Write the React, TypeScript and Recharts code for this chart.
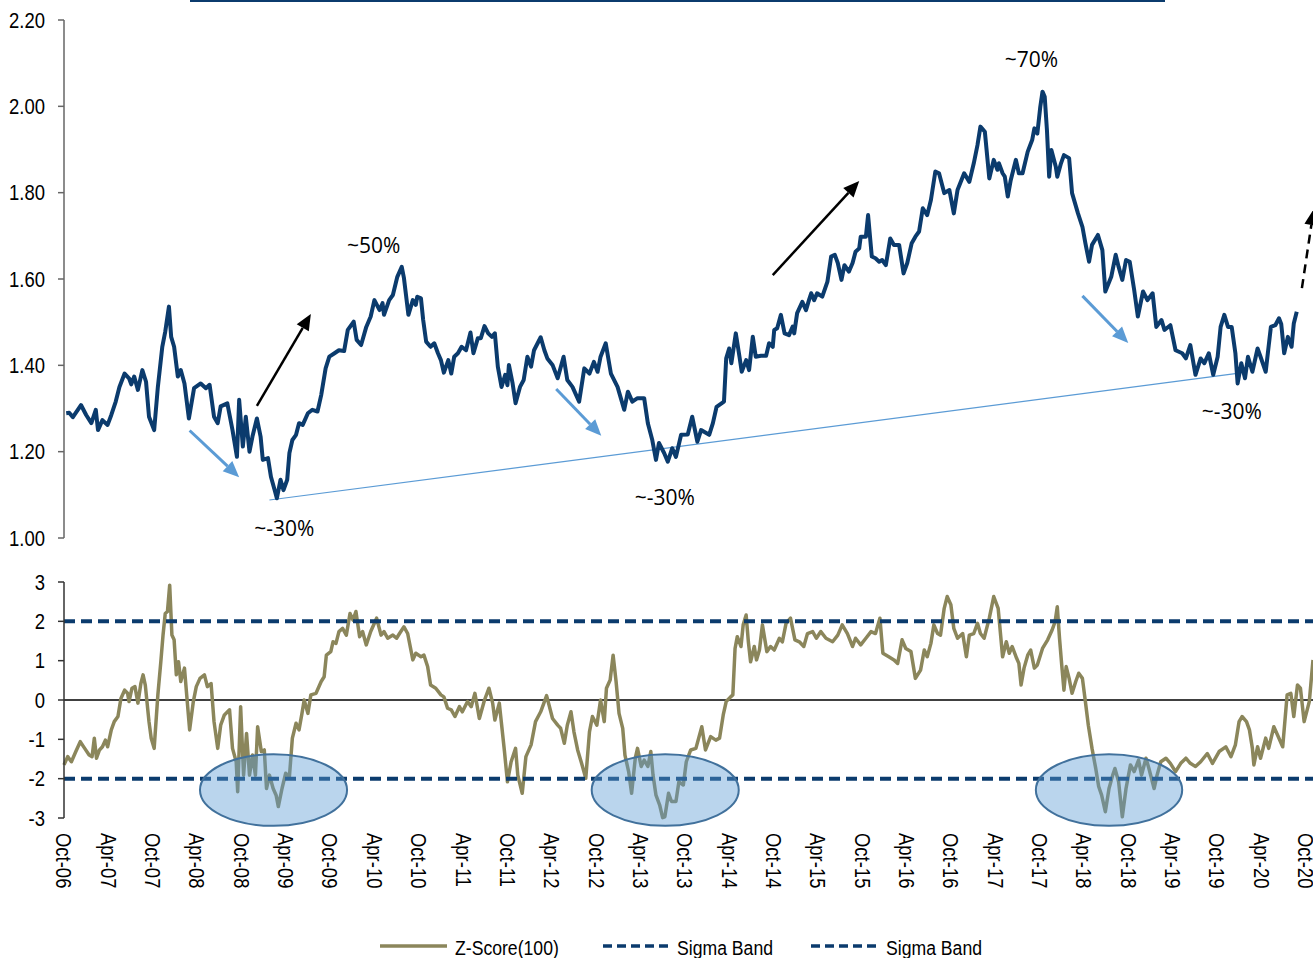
import React from "react";
import {
  LineChart,
  Line,
  XAxis,
  YAxis,
  ReferenceLine,
  ReferenceArea,
  ReferenceDot,
} from "recharts";

// months since Oct-06
const ratioMonths = [
  0.3, 0.7, 1.2, 2.3, 3.0, 3.7, 4.3, 4.6, 5.2, 5.9, 6.4, 7.0, 7.5, 8.2, 8.8, 9.1, 9.5, 10.0, 10.6, 11.1,
  11.5, 12.2, 12.7, 13.3, 13.7, 14.2, 14.5, 14.9, 15.4, 15.8, 16.3, 16.9, 17.6, 18.5, 19.2, 19.7, 20.3, 20.8,
  21.2, 22.1, 22.8, 23.4, 23.7, 24.2, 24.6, 25.1, 25.5, 26.1, 26.6, 26.9, 27.6, 28.0, 28.5, 28.8, 29.3, 29.7,
  30.2, 30.5, 30.9, 31.4, 31.8, 32.3, 33.0, 33.6, 34.3, 34.8, 35.4, 35.9, 36.6, 37.2, 37.9, 38.4, 39.2, 39.6,
  40.2, 40.9, 41.5, 42.0, 42.7, 43.1, 43.3, 44.0, 44.5, 45.1, 45.7, 46.0, 46.6, 47.2, 47.6, 47.8, 48.3, 48.6,
  49.0, 49.6, 50.1, 50.6, 51.0, 51.4, 52.0, 52.4, 52.8, 53.3, 53.8, 54.4, 55.0, 55.4, 56.0, 56.4, 56.9, 57.4,
  57.9, 58.3, 58.7, 59.2, 59.7, 60.0, 60.2, 60.7, 61.1, 61.7, 62.2, 62.7, 63.2, 63.6, 64.5, 65.0, 65.4, 66.1,
  66.8, 67.6, 68.1, 68.8, 69.7, 70.4, 71.1, 71.7, 72.2, 72.6, 73.3, 74.0, 74.9, 75.8, 76.3, 76.9, 77.6, 78.5,
  79.0, 79.6, 80.1, 80.5, 81.2, 81.7, 82.3, 82.8, 83.5, 84.4, 85.0, 85.7, 86.2, 87.3, 87.8, 88.3, 89.3, 89.6,
  90.0, 90.3, 90.9, 91.4, 91.7, 92.3, 92.7, 93.2, 93.6, 94.3, 95.0, 95.4, 95.9, 96.1, 96.5, 97.0, 97.5, 98.1,
  98.6, 98.8, 99.2, 99.9, 100.4, 100.8, 101.1, 101.5, 101.9, 102.6, 103.3, 103.8, 104.3, 104.7, 105.2, 105.6,
  106.2, 106.7, 107.1, 107.6, 107.8, 108.5, 108.8, 109.3, 109.8, 110.3, 110.7, 111.2, 111.8, 112.3, 113.0,
  113.6, 114.1, 114.7, 115.2, 115.7, 116.2, 116.8, 117.3, 117.9, 118.4, 119.1, 119.8, 120.4, 120.9, 121.8,
  122.5, 123.1, 123.6, 124.0, 124.6, 125.2, 125.8, 126.3, 126.5, 127.0, 127.3, 127.7, 128.1, 128.8, 129.2,
  129.7, 130.4, 131.0, 131.3, 131.7, 132.1, 132.4, 132.7, 133.0, 133.3, 133.6, 134.2, 134.4, 134.9, 135.3,
  136.0, 136.4, 137.2, 137.8, 138.2, 138.7, 139.1, 139.9, 140.5, 140.9, 141.7, 142.3, 142.7, 143.2, 143.7,
  144.2, 144.8, 145.3, 146.0, 146.6, 147.3, 147.8, 148.5, 148.9, 149.7, 150.4, 151.3, 151.8, 152.4, 153.1,
  153.8, 154.3, 154.9, 155.5, 156.1, 156.5, 157.0, 157.5, 158.0, 158.5, 158.8, 159.3, 159.8, 160.2, 160.8,
  161.5, 161.9, 162.6, 163.3, 163.9, 164.4, 164.7, 165.1, 165.6, 166.1, 166.4, 166.8,
];
const ratioValues = [
  1.289, 1.29, 1.28, 1.308, 1.285, 1.266, 1.297, 1.25, 1.273, 1.262, 1.285, 1.316, 1.35, 1.381, 1.37, 1.356,
  1.374, 1.343, 1.389, 1.362, 1.281, 1.25, 1.35, 1.443, 1.478, 1.536, 1.466, 1.443, 1.374, 1.389, 1.358, 1.277,
  1.347, 1.358, 1.347, 1.355, 1.281, 1.266, 1.305, 1.312, 1.25, 1.188, 1.32, 1.212, 1.281, 1.2, 1.235, 1.277,
  1.235, 1.181, 1.185, 1.142, 1.111, 1.092, 1.135, 1.111, 1.135, 1.197, 1.227, 1.239, 1.266, 1.262, 1.289,
  1.297, 1.293, 1.331, 1.393, 1.42, 1.428, 1.435, 1.433, 1.482, 1.501, 1.459, 1.447, 1.489, 1.513, 1.551,
  1.528, 1.544, 1.517, 1.551, 1.563, 1.605, 1.628, 1.602, 1.517, 1.551, 1.54, 1.559, 1.555, 1.505, 1.455,
  1.443, 1.451, 1.428, 1.412, 1.383, 1.412, 1.381, 1.42, 1.428, 1.443, 1.435, 1.476, 1.428, 1.463, 1.463,
  1.491, 1.474, 1.466, 1.474, 1.397, 1.35, 1.378, 1.354, 1.401, 1.358, 1.312, 1.35, 1.366, 1.42, 1.397,
  1.435, 1.465, 1.435, 1.416, 1.401, 1.37, 1.42, 1.366, 1.35, 1.316, 1.393, 1.381, 1.408, 1.385, 1.42, 1.451,
  1.381, 1.35, 1.297, 1.339, 1.316, 1.324, 1.324, 1.266, 1.227, 1.181, 1.22, 1.197, 1.177, 1.208, 1.188,
  1.239, 1.24, 1.281, 1.223, 1.25, 1.239, 1.266, 1.304, 1.316, 1.416, 1.439, 1.405, 1.474, 1.42, 1.385,
  1.412, 1.389, 1.466, 1.42, 1.422, 1.422, 1.451, 1.443, 1.482, 1.486, 1.517, 1.474, 1.47, 1.49, 1.474,
  1.521, 1.547, 1.528, 1.551, 1.567, 1.551, 1.567, 1.559, 1.594, 1.652, 1.656, 1.637, 1.598, 1.632, 1.617,
  1.637, 1.663, 1.671, 1.698, 1.698, 1.748, 1.652, 1.648, 1.64, 1.644, 1.632, 1.694, 1.679, 1.679, 1.613,
  1.637, 1.683, 1.698, 1.71, 1.764, 1.748, 1.783, 1.849, 1.845, 1.799, 1.806, 1.752, 1.806, 1.845, 1.825,
  1.868, 1.91, 1.953, 1.941, 1.833, 1.876, 1.853, 1.868, 1.845, 1.837, 1.791, 1.829, 1.876, 1.845, 1.845,
  1.895, 1.922, 1.949, 1.937, 1.999, 2.034, 2.022, 1.945, 1.837, 1.899, 1.86, 1.837, 1.868, 1.887, 1.88,
  1.799, 1.752, 1.721, 1.683, 1.64, 1.679, 1.702, 1.667, 1.571, 1.605, 1.656, 1.628, 1.598, 1.644, 1.64,
  1.575, 1.513, 1.571, 1.551, 1.567, 1.489, 1.505, 1.482, 1.493, 1.435, 1.428, 1.416, 1.447, 1.378, 1.416,
  1.405, 1.428, 1.378, 1.42, 1.489, 1.517, 1.489, 1.489, 1.428, 1.358, 1.405, 1.37, 1.42, 1.385, 1.439, 1.42,
  1.385, 1.489, 1.493, 1.509, 1.496, 1.428, 1.466, 1.443, 1.497, 1.524,
];

const zMonths = [
  0.0, 0.5, 1.0, 1.6, 2.2, 2.8, 3.4, 3.8, 4.1, 4.4, 4.8, 5.2, 5.6, 5.9, 6.4, 6.8, 7.3, 7.7, 8.2, 8.6, 8.8,
  9.2, 9.6, 10.0, 10.4, 10.7, 11.0, 11.5, 11.8, 12.2, 12.7, 13.1, 13.4, 13.7, 14.0, 14.3, 14.6, 14.9, 15.2,
  15.5, 15.8, 16.3, 16.6, 17.0, 17.5, 17.9, 18.4, 19.0, 19.4, 19.9, 20.3, 20.8, 21.2, 21.7, 22.4, 22.8, 23.3,
  23.5, 23.9, 24.3, 24.7, 25.1, 25.5, 25.9, 26.2, 26.7, 27.1, 27.4, 27.8, 28.3, 28.7, 29.0, 29.5, 30.0, 30.5,
  30.9, 31.4, 31.8, 32.2, 32.5, 33.0, 33.4, 34.1, 34.8, 35.2, 35.5, 36.1, 36.4, 36.8, 37.2, 37.7, 38.2, 38.7,
  39.1, 39.5, 40.0, 40.4, 40.9, 41.5, 42.3, 42.9, 43.3, 43.8, 44.5, 45.0, 45.4, 46.0, 46.5, 47.2, 47.6, 48.3,
  48.7, 49.2, 49.6, 50.3, 51.0, 51.4, 51.9, 52.4, 52.9, 53.5, 53.9, 54.6, 55.1, 55.6, 56.2, 56.9, 57.5, 58.0,
  58.3, 58.9, 59.6, 60.0, 60.5, 61.1, 61.4, 62.0, 62.5, 63.2, 63.8, 64.5, 65.3, 66.1, 66.8, 67.2, 67.7, 68.1,
  68.6, 69.0, 69.5, 70.1, 70.6, 71.1, 71.5, 72.1, 72.6, 73.1, 73.4, 73.9, 74.3, 74.7, 75.1, 75.6, 75.9, 76.4,
  76.8, 77.3, 77.6, 78.1, 78.5, 79.0, 79.4, 79.7, 80.1, 80.6, 81.0, 81.3, 81.8, 82.2, 82.8, 83.2, 83.8, 84.2,
  84.8, 85.5, 86.3, 86.8, 87.5, 88.2, 88.7, 89.2, 89.6, 90.2, 90.5, 90.8, 91.1, 91.6, 91.9, 92.3, 92.6, 92.9,
  93.4, 93.7, 94.1, 94.5, 95.1, 95.6, 96.1, 96.8, 97.2, 97.7, 98.3, 98.9, 99.5, 100.1, 100.6, 101.3, 101.8,
  102.4, 103.1, 104.0, 104.7, 105.3, 106.0, 106.7, 107.1, 107.8, 108.5, 109.2, 109.8, 110.4, 110.8, 111.6,
  112.3, 112.8, 113.4, 113.9, 114.6, 115.2, 115.9, 116.4, 116.8, 117.3, 117.7, 118.2, 118.6, 119.1, 119.5,
  120.0, 120.4, 120.9, 121.6, 122.1, 122.5, 123.1, 123.6, 124.0, 124.5, 125.2, 125.8, 126.4, 127.0, 127.5,
  127.9, 128.3, 128.9, 129.2, 129.5, 129.9, 130.4, 130.8, 131.3, 131.7, 132.4, 133.1, 133.7, 134.1, 134.4,
  134.7, 135.0, 135.3, 135.6, 136.0, 136.4, 136.9, 137.3, 137.8, 138.2, 138.6, 139.1, 139.6, 140.0, 140.4,
  140.9, 141.4, 141.9, 142.2, 142.7, 143.2, 143.7, 144.3, 144.8, 145.4, 145.8, 146.4, 146.8, 147.5, 147.9,
  148.4, 149.1, 149.7, 150.4, 151.1, 151.8, 152.4, 153.1, 153.8, 154.7, 155.4, 156.3, 157.2, 157.9, 158.5,
  159.0, 159.4, 160.0, 160.4, 160.8, 161.0, 161.5, 161.9, 162.6, 163.0, 163.7, 164.2, 164.9, 165.5, 166.0,
  166.4, 166.9, 167.3, 167.8, 168.5, 169.0,
];
const zValues = [
  -1.65, -1.44, -1.57, -1.31, -1.06, -1.23, -1.4, -1.44, -0.97, -1.48, -1.27, -1.19, -1.02, -1.19, -0.76,
  -0.55, -0.42, 0.04, 0.25, 0.17, -0.04, 0.3, 0.34, -0.08, 0.42, 0.64, 0.38, -0.55, -0.97, -1.23, 0.13, 0.97,
  1.65, 2.2, 2.25, 2.92, 1.65, 1.53, 0.64, 0.97, 0.47, 0.81, 0.13, -0.76, -0.04, 0.34, 0.55, 0.64, 0.34, 0.42,
  -0.55, -1.23, -0.64, -0.38, -0.25, -1.23, -1.57, -2.33, -0.17, -1.91, -0.85, -1.91, -1.4, -1.91, -0.68,
  -1.31, -1.27, -2.25, -1.91, -2.25, -2.42, -2.71, -2.25, -1.86, -1.95, -0.97, -0.59, -0.76, -0.34, 0.0,
  -0.34, 0.13, 0.17, 0.47, 0.59, 1.14, 1.23, 1.48, 1.44, 1.74, 1.82, 1.65, 2.2, 2.03, 2.25, 1.61, 1.74, 1.4,
  1.74, 2.08, 1.65, 1.74, 1.57, 1.65, 1.57, 1.69, 1.86, 1.69, 1.02, 1.19, 1.1, 1.14, 0.85, 0.38, 0.3, 0.13,
  0.08, -0.21, -0.25, -0.42, -0.17, -0.3, -0.04, -0.17, 0.17, -0.47, 0.0, 0.3, -0.08, -0.51, -0.08, -1.31,
  -2.08, -1.57, -1.23, -1.91, -2.37, -1.44, -1.14, -0.55, -0.3, 0.11, -0.47, -0.64, -0.72, -1.1, -0.64, -0.3,
  -0.81, -1.27, -1.65, -1.99, -0.81, -0.42, -0.64, 0.0, -0.55, 0.3, 0.51, 1.14, 0.47, -0.34, -0.72, -1.4,
  -1.82, -2.37, -1.48, -1.23, -1.69, -1.53, -1.69, -1.31, -1.91, -2.42, -2.67, -2.99, -2.97, -2.37, -2.58,
  -2.58, -2.08, -2.16, -1.57, -1.27, -1.23, -0.68, -1.27, -0.93, -1.02, -0.97, -0.38, -0.04, 0.08, 0.13, 1.31,
  1.61, 1.36, 1.91, 2.16, 1.48, 0.97, 1.36, 1.02, 1.27, 1.91, 1.23, 1.36, 1.27, 1.57, 1.48, 1.95, 2.08, 1.53,
  1.48, 1.36, 1.69, 1.74, 1.57, 1.74, 1.57, 1.48, 1.65, 1.91, 1.69, 1.36, 1.57, 1.4, 1.57, 1.74, 1.69, 2.08,
  1.19, 1.1, 1.02, 0.93, 1.53, 1.31, 1.23, 0.55, 0.76, 1.27, 1.1, 1.44, 1.91, 1.69, 1.65, 2.33, 2.63, 2.42,
  1.82, 1.57, 1.69, 1.1, 1.65, 1.69, 1.95, 1.69, 1.57, 2.08, 2.63, 2.33, 1.1, 1.48, 1.19, 1.36, 1.06, 0.93,
  0.38, 0.81, 1.14, 1.27, 0.81, 0.89, 1.31, 1.53, 1.78, 1.99, 2.37, 1.57, 0.89, 0.25, 0.85, 0.55, 0.17, 0.47,
  0.68, 0.55, -0.04, -0.64, -1.23, -1.74, -2.2, -2.42, -2.84, -2.25, -1.91, -1.74, -2.08, -2.97, -2.25, -1.65,
  -1.82, -1.53, -1.91, -1.48, -1.74, -2.25, -1.91, -1.57, -1.48, -1.61, -1.82, -1.61, -1.48, -1.61, -1.69,
  -1.57, -1.36, -1.61, -1.31, -1.19, -1.44, -1.14, -0.55, -0.42, -0.55, -0.76, -1.23, -1.65, -1.19, -1.48,
  -0.97, -1.23, -0.68, -0.89, -1.19, 0.13, 0.17, -0.42, 0.38, 0.3, -0.55, -0.04, 1.02,
];

const SIGMA_UPPER = 2;
const SIGMA_LOWER = -2;

const monthTicks = [
  0, 6, 12, 18, 24, 30, 36, 42, 48, 54, 60, 66, 72, 78, 84, 90, 96, 102, 108, 114, 120, 126, 132, 138, 144,
  150, 156, 162, 168,
];
const monthLabels = [
  "Oct-06", "Apr-07", "Oct-07", "Apr-08", "Oct-08", "Apr-09", "Oct-09", "Apr-10", "Oct-10", "Apr-11",
  "Oct-11", "Apr-12", "Oct-12", "Apr-13", "Oct-13", "Apr-14", "Oct-14", "Apr-15", "Oct-15", "Apr-16",
  "Oct-16", "Apr-17", "Oct-17", "Apr-18", "Oct-18", "Apr-19", "Oct-19", "Apr-20", "Oct-20",
];
const ratioTicks = [1.0, 1.2, 1.4, 1.6, 1.8, 2.0, 2.2];
const zTicks = [-3, -2, -1, 0, 1, 2, 3];

// annotations, in chart units [month, value]
const supportLine = [[27.8, 1.088], [159.0, 1.382]];
const riseArrows = [
  [[26.1, 1.306], [33.4, 1.519]],
  [[95.9, 1.609], [107.6, 1.827]],
];
const fallArrows = [
  [[17.0, 1.249], [23.7, 1.141]],
  [[66.6, 1.345], [72.7, 1.237]],
  [[137.8, 1.561], [144.0, 1.452]],
];
const outlookArrow = [[167.5, 1.579], [169.1, 1.762]];
const moveLabels = [
  { month: 41.9, value: 1.679, text: "~50%" },
  { month: 29.8, value: 1.023, text: "~-30%" },
  { month: 81.3, value: 1.095, text: "~-30%" },
  { month: 130.9, value: 2.11, text: "~70%" },
  { month: 158.0, value: 1.294, text: "~-30%" },
];
const extremeZones = [
  [18.4, 38.3],
  [71.4, 91.3],
  [131.5, 151.3],
];

const ratioData = ratioMonths.map((m, i) => ({ month: m, ratio: ratioValues[i] }));
const zData = zMonths.map((m, i) => ({
  month: m,
  z: zValues[i],
  upper: SIGMA_UPPER,
  lower: SIGMA_LOWER,
}));

const SANS = "'Liberation Sans', Arial, sans-serif";
const SQUEEZE = 0.84; // fake a narrow face
const NAVY = "#0b3b6d";
const OLIVE = "#8b865b";
const LIGHT_BLUE = "#5b9bd5";
const X_DOMAIN = [0, 169];

const NarrowText = ({ x, y, anchor, size, rotate = 0, children }: any) => (
  <text
    transform={`translate(${x} ${y}) rotate(${rotate}) scale(${SQUEEZE} 1)`}
    x={0}
    y={0}
    textAnchor={anchor}
    dominantBaseline="central"
    fontSize={size}
    fontFamily={SANS}
    fill="#000"
  >
    {children}
  </text>
);

const arrowShape = (color: string, width: number, dash?: string) => (p: any) => {
  const { x1, y1, x2, y2 } = p;
  const ang = Math.atan2(y2 - y1, x2 - x1);
  const head = 16;
  const half = 7;
  const bx = x2 - head * Math.cos(ang);
  const by = y2 - head * Math.sin(ang);
  const nx = -Math.sin(ang) * half;
  const ny = Math.cos(ang) * half;
  return (
    <g>
      <line x1={x1} y1={y1} x2={bx} y2={by} stroke={color} strokeWidth={width} strokeDasharray={dash} />
      <polygon points={`${x2},${y2} ${bx + nx},${by + ny} ${bx - nx},${by - ny}`} fill={color} />
    </g>
  );
};

const MonthTick = (props: any) => {
  const { x, y, payload } = props;
  const label = monthLabels[monthTicks.indexOf(payload.value)];
  return (
    <NarrowText x={x} y={y} anchor="start" size={22} rotate={90}>
      {label}
    </NarrowText>
  );
};

const makeValueTick = (fmt: (v: number) => string) => (props: any) => {
  const { x, y, payload } = props;
  return (
    <NarrowText x={x} y={y} anchor="end" size={22}>
      {fmt(payload.value)}
    </NarrowText>
  );
};

const RatioTick = makeValueTick((v) => v.toFixed(2));
const ZTick = makeValueTick((v) => String(v));

export default function App() {
  return (
    <div
      style={{
        position: "absolute",
        left: 0,
        top: 0,
        width: 1313,
        height: 958,
        background: "#fff",
        overflow: "hidden",
      }}
    >
      <div style={{ position: "absolute", left: 190, top: 0, width: 975, height: 2, background: NAVY }} />

      {/* ratio panel */}
      <div style={{ position: "absolute", left: 0, top: 0 }}>
        <LineChart width={1313} height={560} data={ratioData} margin={{ top: 20, right: 0, bottom: 22, left: 0 }}>
          <XAxis type="number" dataKey="month" domain={X_DOMAIN} ticks={monthTicks} hide />
          <YAxis
            type="number"
            domain={[1, 2.2]}
            ticks={ratioTicks}
            width={64}
            tick={<RatioTick />}
            tickSize={6}
            tickMargin={13}
            axisLine={{ stroke: "#666", strokeWidth: 1.5 }}
            tickLine={{ stroke: "#666", strokeWidth: 1.5 }}
          />
          <ReferenceLine
            segment={[
              { x: supportLine[0][0], y: supportLine[0][1] },
              { x: supportLine[1][0], y: supportLine[1][1] },
            ]}
            stroke={LIGHT_BLUE}
            strokeWidth={1.2}
            ifOverflow="visible"
          />
          <Line
            type="linear"
            dataKey="ratio"
            stroke={NAVY}
            strokeWidth={4}
            strokeLinejoin="round"
            dot={false}
            activeDot={false}
            isAnimationActive={false}
          />
          {riseArrows.map((a, i) => (
            <ReferenceLine
              key={`rise${i}`}
              segment={[
                { x: a[0][0], y: a[0][1] },
                { x: a[1][0], y: a[1][1] },
              ]}
              ifOverflow="visible"
              shape={arrowShape("#000", 2.5)}
            />
          ))}
          {fallArrows.map((a, i) => (
            <ReferenceLine
              key={`fall${i}`}
              segment={[
                { x: a[0][0], y: a[0][1] },
                { x: a[1][0], y: a[1][1] },
              ]}
              ifOverflow="visible"
              shape={arrowShape(LIGHT_BLUE, 3)}
            />
          ))}
          <ReferenceLine
            segment={[
              { x: outlookArrow[0][0], y: outlookArrow[0][1] },
              { x: outlookArrow[1][0], y: outlookArrow[1][1] },
            ]}
            ifOverflow="visible"
            shape={arrowShape("#000", 2.5, "9 6")}
          />
          {moveLabels.map((l, i) => (
            <ReferenceDot
              key={`lbl${i}`}
              x={l.month}
              y={l.value}
              r={0}
              ifOverflow="visible"
              shape={(p: any) => (
                <text
                  x={p.cx}
                  y={p.cy}
                  textAnchor="middle"
                  dominantBaseline="central"
                  fontSize={21}
                  fontFamily="'Open Sans', 'Noto Sans', sans-serif"
                  fill="#000"
                >
                  {l.text}
                </text>
              )}
            />
          ))}
        </LineChart>
      </div>

      {/* z-score panel */}
      <div style={{ position: "absolute", left: 0, top: 560 }}>
        <LineChart width={1313} height={398} data={zData} margin={{ top: 22, right: 0, bottom: 0, left: 0 }}>
          <XAxis
            type="number"
            dataKey="month"
            domain={X_DOMAIN}
            ticks={monthTicks}
            height={140}
            axisLine={false}
            tickLine={false}
            tickSize={6}
            tickMargin={9}
            interval={0}
            tick={<MonthTick />}
          />
          <YAxis
            type="number"
            domain={[-3, 3]}
            ticks={zTicks}
            width={64}
            tick={<ZTick />}
            tickSize={6}
            tickMargin={13}
            axisLine={{ stroke: "#333", strokeWidth: 1.5 }}
            tickLine={{ stroke: "#333", strokeWidth: 1.5 }}
          />
          <ReferenceLine y={0} stroke="#000" strokeWidth={1.3} />
          <Line
            type="linear"
            dataKey="z"
            name="Z-Score(100)"
            stroke={OLIVE}
            strokeWidth={3.5}
            strokeLinejoin="round"
            dot={false}
            activeDot={false}
            isAnimationActive={false}
          />
          <Line
            type="linear"
            dataKey="upper"
            name="Sigma Band"
            stroke={NAVY}
            strokeWidth={4}
            strokeDasharray="11 6"
            dot={false}
            activeDot={false}
            isAnimationActive={false}
          />
          <Line
            type="linear"
            dataKey="lower"
            name="Sigma Band"
            stroke={NAVY}
            strokeWidth={4}
            strokeDasharray="11 6"
            dot={false}
            activeDot={false}
            isAnimationActive={false}
          />
          {extremeZones.map((zn, i) => (
            <ReferenceArea
              key={`zone${i}`}
              x1={zn[0]}
              x2={zn[1]}
              y1={-1.38}
              y2={-3.2}
              ifOverflow="visible"
              zIndex={1000}
              shape={(p: any) => (
                <ellipse
                  cx={p.x + p.width / 2}
                  cy={p.y + p.height / 2}
                  rx={Math.abs(p.width) / 2}
                  ry={Math.abs(p.height) / 2}
                  fill={LIGHT_BLUE}
                  fillOpacity={0.42}
                  stroke="#41719c"
                  strokeWidth={2}
                />
              )}
            />
          ))}
        </LineChart>
      </div>

      {/* legend */}
      <svg style={{ position: "absolute", left: 0, top: 930 }} width={1313} height={28}>
        <line x1={380} y1={16} x2={447} y2={16} stroke={OLIVE} strokeWidth={3.5} />
        <NarrowText x={455} y={17} anchor="start" size={21}>
          Z-Score(100)
        </NarrowText>
        <line x1={603} y1={16} x2={668} y2={16} stroke={NAVY} strokeWidth={3.5} strokeDasharray="9 5" />
        <NarrowText x={677} y={17} anchor="start" size={21}>
          Sigma Band
        </NarrowText>
        <line x1={811} y1={16} x2={877} y2={16} stroke={NAVY} strokeWidth={3.5} strokeDasharray="9 5" />
        <NarrowText x={886} y={17} anchor="start" size={21}>
          Sigma Band
        </NarrowText>
      </svg>
    </div>
  );
}
